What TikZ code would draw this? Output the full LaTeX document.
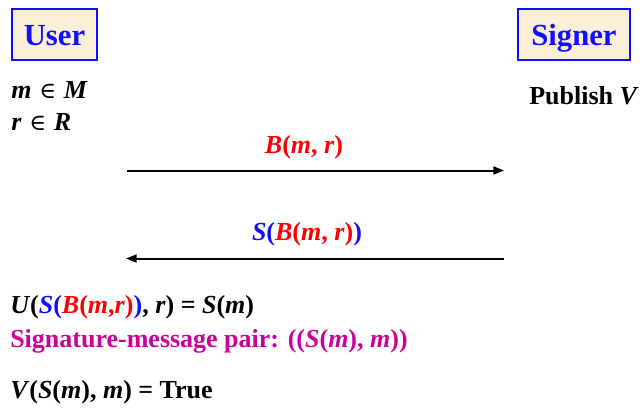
\documentclass[tikz,border=0pt]{standalone}
\usepackage{fontspec}
\setmainfont{Liberation Serif}
\newfontfamily\symfont{DejaVu Serif}
\usetikzlibrary{arrows.meta}
\definecolor{boxfill}{HTML}{FCEFD8}
\definecolor{myblue}{HTML}{1010FF}
\definecolor{myred}{HTML}{FF0000}
\definecolor{mymag}{HTML}{CC0099}
\newcommand{\bim}[1]{\textbf{\textit{#1}}}
\newcommand{\elem}{\hspace{0.3em}{\symfont\mdseries\fontsize{17}{20}\selectfont ∈}\hspace{0.3em}}
\begin{document}
\begin{tikzpicture}[x=0.75pt,y=-0.75pt,
  actor/.style={draw=myblue,line width=1.5pt,fill=boxfill,inner sep=0pt,
    text=myblue,text height=20pt,text depth=4.2pt,font=\fontsize{23}{27}\selectfont\bfseries},
  txt/.style={anchor=base west,inner sep=0pt,font=\fontsize{19.5}{23}\selectfont\bfseries},
  lbl/.style={anchor=base,inner sep=0pt,font=\fontsize{19.5}{23}\selectfont\bfseries},
  msg/.style={line width=1.5pt,-{Triangle[length=8pt,width=6pt]}}]
\useasboundingbox (0,0) rectangle (642,408);
\node[actor,minimum width=63.75pt,minimum height=38.25pt] (user) at (54.5,34.5) {User};
\node[actor,minimum width=84pt,minimum height=38.25pt] (signer) at (574,34.5) {Signer};
\node[txt] (m) at (11,98) {\bim{m}\elem\bim{M}};
\node[txt] (r) at (11,130) {\bim{r}\elem\bim{R}};
\node[txt] (pub) at (529,104) {Publish \textit{V}};
\coordinate (a1s) at (127,170.5);
\coordinate (a1e) at (504,170.5);
\coordinate (a2s) at (504,258.5);
\coordinate (a2e) at (126,258.5);
\draw[msg] (a1s) -- (a1e);
\draw[msg] (a2s) -- (a2e);
\node[lbl,text=myred] (l1) at (304,153) {\bim{B}(\bim{m}, \bim{r})};
\node[lbl] (l2) at (307,240) {\color{myblue}\bim{S}(\color{myred}\bim{B}(\bim{m}, \bim{r})\color{myblue})};
\node[txt] (u) at (10,313) {\bim{U}(\textcolor{myblue}{\bim{S}(}\textcolor{myred}{\bim{B}(\bim{m},\bim{r})}\textcolor{myblue}{)}, \bim{r}) = \bim{S}(\bim{m})};
\node[txt,text=mymag] (pair) at (10,347) {Signature-message pair: ((\bim{S}(\bim{m}), \bim{m}))};
\node[txt] (v) at (10,398) {\bim{V}(\bim{S}(\bim{m}), \bim{m}) = True};
\end{tikzpicture}
\end{document}
